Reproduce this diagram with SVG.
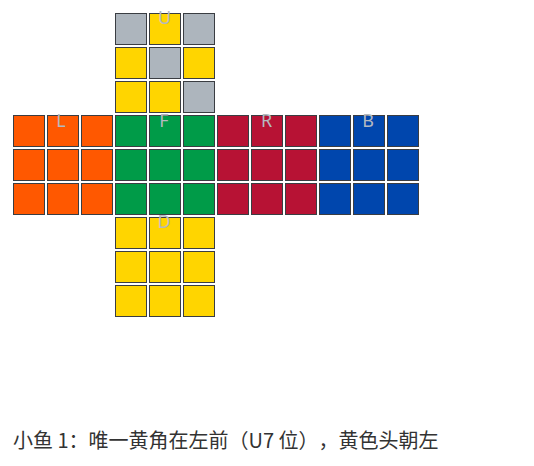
<svg xmlns="http://www.w3.org/2000/svg" width="534" height="466" viewBox="0 0 534 466">
<defs>
<style>
.c{stroke:#3a3d42;stroke-width:1}
.g{fill:#adb5bd}
.y{fill:#ffd500}
.o{fill:#ff5800}
.gr{fill:#009b48}
.r{fill:#b71234}
.b{fill:#0046ad}
.lbl{font-family:"Noto Sans","Open Sans",sans-serif;font-size:18px;fill:#b4b9c0;text-anchor:middle}
.cap{font-family:"Noto Sans CJK SC","Noto Sans",sans-serif;font-size:20px;fill:#333333;text-spacing-trim:space-all}
</style>
</defs>
<rect width="534" height="466" fill="#ffffff"/>
<g id="face-U">
<rect class="c g" x="115.5" y="13.5" width="31" height="31"/>
<rect class="c y" x="149.5" y="13.5" width="31" height="31"/>
<rect class="c g" x="183.5" y="13.5" width="31" height="31"/>
<rect class="c y" x="115.5" y="47.5" width="31" height="31"/>
<rect class="c g" x="149.5" y="47.5" width="31" height="31"/>
<rect class="c y" x="183.5" y="47.5" width="31" height="31"/>
<rect class="c y" x="115.5" y="81.5" width="31" height="31"/>
<rect class="c y" x="149.5" y="81.5" width="31" height="31"/>
<rect class="c g" x="183.5" y="81.5" width="31" height="31"/>
<text class="lbl" x="164.5" y="24">U</text>
</g>
<g id="face-L">
<rect class="c o" x="13.5" y="115.5" width="31" height="31"/>
<rect class="c o" x="47.5" y="115.5" width="31" height="31"/>
<rect class="c o" x="81.5" y="115.5" width="31" height="31"/>
<rect class="c o" x="13.5" y="149.5" width="31" height="31"/>
<rect class="c o" x="47.5" y="149.5" width="31" height="31"/>
<rect class="c o" x="81.5" y="149.5" width="31" height="31"/>
<rect class="c o" x="13.5" y="183.5" width="31" height="31"/>
<rect class="c o" x="47.5" y="183.5" width="31" height="31"/>
<rect class="c o" x="81.5" y="183.5" width="31" height="31"/>
<text class="lbl" x="61" y="126.5">L</text>
</g>
<g id="face-F">
<rect class="c gr" x="115.5" y="115.5" width="31" height="31"/>
<rect class="c gr" x="149.5" y="115.5" width="31" height="31"/>
<rect class="c gr" x="183.5" y="115.5" width="31" height="31"/>
<rect class="c gr" x="115.5" y="149.5" width="31" height="31"/>
<rect class="c gr" x="149.5" y="149.5" width="31" height="31"/>
<rect class="c gr" x="183.5" y="149.5" width="31" height="31"/>
<rect class="c gr" x="115.5" y="183.5" width="31" height="31"/>
<rect class="c gr" x="149.5" y="183.5" width="31" height="31"/>
<rect class="c gr" x="183.5" y="183.5" width="31" height="31"/>
<text class="lbl" x="164" y="126.5">F</text>
</g>
<g id="face-R">
<rect class="c r" x="217.5" y="115.5" width="31" height="31"/>
<rect class="c r" x="251.5" y="115.5" width="31" height="31"/>
<rect class="c r" x="285.5" y="115.5" width="31" height="31"/>
<rect class="c r" x="217.5" y="149.5" width="31" height="31"/>
<rect class="c r" x="251.5" y="149.5" width="31" height="31"/>
<rect class="c r" x="285.5" y="149.5" width="31" height="31"/>
<rect class="c r" x="217.5" y="183.5" width="31" height="31"/>
<rect class="c r" x="251.5" y="183.5" width="31" height="31"/>
<rect class="c r" x="285.5" y="183.5" width="31" height="31"/>
<text class="lbl" x="266.5" y="126.5">R</text>
</g>
<g id="face-B">
<rect class="c b" x="319.5" y="115.5" width="31" height="31"/>
<rect class="c b" x="353.5" y="115.5" width="31" height="31"/>
<rect class="c b" x="387.5" y="115.5" width="31" height="31"/>
<rect class="c b" x="319.5" y="149.5" width="31" height="31"/>
<rect class="c b" x="353.5" y="149.5" width="31" height="31"/>
<rect class="c b" x="387.5" y="149.5" width="31" height="31"/>
<rect class="c b" x="319.5" y="183.5" width="31" height="31"/>
<rect class="c b" x="353.5" y="183.5" width="31" height="31"/>
<rect class="c b" x="387.5" y="183.5" width="31" height="31"/>
<text class="lbl" x="368" y="126.5">B</text>
</g>
<g id="face-D">
<rect class="c y" x="115.5" y="217.5" width="31" height="31"/>
<rect class="c y" x="149.5" y="217.5" width="31" height="31"/>
<rect class="c y" x="183.5" y="217.5" width="31" height="31"/>
<rect class="c y" x="115.5" y="251.5" width="31" height="31"/>
<rect class="c y" x="149.5" y="251.5" width="31" height="31"/>
<rect class="c y" x="183.5" y="251.5" width="31" height="31"/>
<rect class="c y" x="115.5" y="285.5" width="31" height="31"/>
<rect class="c y" x="149.5" y="285.5" width="31" height="31"/>
<rect class="c y" x="183.5" y="285.5" width="31" height="31"/>
<text class="lbl" x="164" y="228">D</text>
</g>
<g id="connectors"></g>
<text class="cap" x="13" y="448">小鱼 1：唯一黄角在左前（U7 位），黄色头朝左</text>
</svg>
